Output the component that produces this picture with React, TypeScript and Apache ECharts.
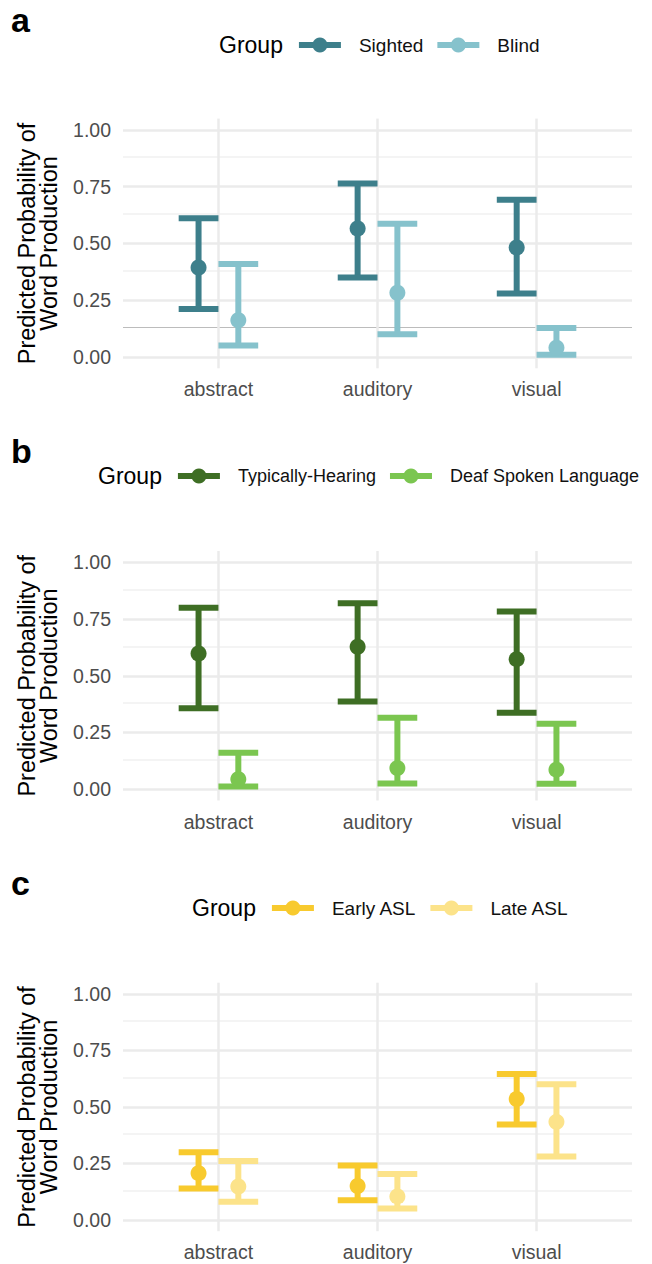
import React, { useEffect, useRef } from "react";
import * as echarts from "echarts";

// Word categories on the x axis
const categories = ["abstract", "auditory", "visual"];

// Y axis ticks (labelled) and minor gridlines
const yTicks = [0, 0.25, 0.5, 0.75, 1];
const yMinor = [0.125, 0.375, 0.625, 0.875];

// Panel a: sighted vs blind
const sightedMid = [0.394, 0.566, 0.482];
const sightedLo = [0.211, 0.35, 0.279];
const sightedHi = [0.611, 0.764, 0.692];
const blindMid = [0.162, 0.283, 0.041];
const blindLo = [0.05, 0.1, 0.01];
const blindHi = [0.41, 0.587, 0.127];

// Panel b: typically-hearing vs deaf spoken language
const hearingMid = [0.598, 0.628, 0.573];
const hearingLo = [0.357, 0.386, 0.337];
const hearingHi = [0.8, 0.82, 0.783];
const deafMid = [0.044, 0.093, 0.086];
const deafLo = [0.012, 0.025, 0.024];
const deafHi = [0.16, 0.315, 0.288];

// Panel c: early vs late ASL
const earlyMid = [0.207, 0.15, 0.535];
const earlyLo = [0.139, 0.087, 0.422];
const earlyHi = [0.299, 0.241, 0.646];
const lateMid = [0.148, 0.104, 0.434];
const lateLo = [0.08, 0.05, 0.281];
const lateHi = [0.261, 0.203, 0.601];

type Group = { name: string; color: string; mid: number[]; lo: number[]; hi: number[] };
type Panel = {
  letter: string;
  groups: Group[];
  top: number;
  height: number;
  legendX: number;
  legendY: number;
  labelSize: number;
};

const panels: Panel[] = [
  {
    letter: "a",
    top: 118.6,
    height: 249.7,
    legendX: 219,
    legendY: 45,
    labelSize: 19,
    groups: [
      { name: "Sighted", color: "#3d7f8b", mid: sightedMid, lo: sightedLo, hi: sightedHi },
      { name: "Blind", color: "#86c2cc", mid: blindMid, lo: blindLo, hi: blindHi },
    ],
  },
  {
    letter: "b",
    top: 551,
    height: 249.5,
    legendX: 98,
    legendY: 476,
    labelSize: 18,
    groups: [
      { name: "Typically-Hearing", color: "#3e6e24", mid: hearingMid, lo: hearingLo, hi: hearingHi },
      { name: "Deaf Spoken Language", color: "#7bc650", mid: deafMid, lo: deafLo, hi: deafHi },
    ],
  },
  {
    letter: "c",
    top: 982.7,
    height: 248.5,
    legendX: 192,
    legendY: 908,
    labelSize: 19,
    groups: [
      { name: "Early ASL", color: "#f8ca2e", mid: earlyMid, lo: earlyLo, hi: earlyHi },
      { name: "Late ASL", color: "#fce38a", mid: lateMid, lo: lateLo, hi: lateHi },
    ],
  },
];

const FONT = "Liberation Sans, Arial, sans-serif";
const DODGE = 0.25; // dodge width in category units
const CAP_HALF = 0.125; // half-width of the error-bar caps
const GRID_COLOR = "#ebebeb";
const LEGEND_TITLE_SIZE = 23;
const TICK_SIZE = 19.5;

function textWidth(text: string, size: number): number {
  const c = document.createElement("canvas").getContext("2d");
  if (!c) return text.length * size * 0.55;
  c.font = `${size}px ${FONT}`;
  return c.measureText(text).width;
}

function buildLegend(p: Panel): any[] {
  const els: any[] = [];
  let x = p.legendX;
  const y = p.legendY;
  els.push({
    type: "text",
    x,
    y,
    style: {
      text: "Group",
      font: `${LEGEND_TITLE_SIZE}px ${FONT}`,
      fill: "#000",
      verticalAlign: "middle",
      align: "left",
    },
  });
  x += textWidth("Group", LEGEND_TITLE_SIZE) + 16;
  p.groups.forEach((g) => {
    els.push({ type: "rect", shape: { x, y: y - 3, width: 42, height: 6 }, style: { fill: g.color } });
    els.push({ type: "circle", shape: { cx: x + 21, cy: y, r: 7.5 }, style: { fill: g.color } });
    x += 42 + 18;
    els.push({
      type: "text",
      x,
      y,
      style: {
        text: g.name,
        font: `${p.labelSize}px ${FONT}`,
        fill: "#111",
        verticalAlign: "middle",
        align: "left",
      },
    });
    x += textWidth(g.name, p.labelSize) + 14;
  });
  els.push({
    type: "text",
    x: 11,
    y: p.legendY - 25,
    style: { text: p.letter, font: `bold 34px ${FONT}`, fill: "#000", verticalAlign: "middle", align: "left" },
  });
  return els;
}

export default function App() {
  const ref = useRef<HTMLDivElement>(null);

  useEffect(() => {
    if (!ref.current) return;
    const chart = echarts.init(ref.current, null, { renderer: "svg" });

    const grid = panels.map((p) => ({ left: 123, right: 20, top: p.top, height: p.height }));
    const xAxis = panels.map((_, i) => ({
      type: "value",
      gridIndex: i,
      min: 0.4,
      max: 3.6,
      axisLine: { show: false },
      axisTick: { show: false },
      splitLine: { show: false },
      axisLabel: {
        customValues: categories.map((_, k) => k + 1),
        formatter: (v: number) => categories[Math.round(v) - 1] ?? "",
        color: "#4d4d4d",
        fontSize: TICK_SIZE,
        fontFamily: FONT,
        margin: 11,
      },
    }));
    const yAxis = panels.map((_, i) => ({
      type: "value",
      gridIndex: i,
      min: -0.05,
      max: 1.05,
      axisLine: { show: false },
      axisTick: { show: false },
      splitLine: { show: false },
      name: "Predicted Probability of\nWord Production",
      nameLocation: "middle",
      nameRotate: 90,
      nameGap: 63,
      nameTextStyle: { fontSize: 23.5, fontFamily: FONT, color: "#000", lineHeight: 22 },
      axisLabel: {
        customValues: yTicks,
        formatter: (v: number) => v.toFixed(2),
        color: "#4d4d4d",
        fontSize: TICK_SIZE,
        fontFamily: FONT,
        margin: 12,
      },
    }));

    const series: any[] = [];
    panels.forEach((p, i) => {
      // gridlines drawn through the panel's own scales
      const lines: any[] = [];
      yMinor.forEach((v) => {
        const darker = i === 0 && v === 0.125;
        lines.push({
          yAxis: v,
          lineStyle: { color: darker ? "#bcbcbc" : "#f0f0f0", width: darker ? 1 : 1.5, type: "solid" },
        });
      });
      yTicks.forEach((v) => lines.push({ yAxis: v, lineStyle: { color: GRID_COLOR, width: 2.5, type: "solid" } }));
      categories.forEach((_, k) =>
        lines.push({ xAxis: k + 1, lineStyle: { color: GRID_COLOR, width: 2.5, type: "solid" } })
      );
      series.push({
        type: "line",
        xAxisIndex: i,
        yAxisIndex: i,
        data: [],
        z: 1,
        silent: true,
        markLine: { symbol: "none", silent: true, z: 1, label: { show: false }, data: lines, animation: false },
      });

      p.groups.forEach((g, gi) => {
        const offset = (gi - (p.groups.length - 1) / 2) * (DODGE / (p.groups.length - 1));
        const data = categories.map((_, k) => [k + 1 + offset, g.mid[k], g.lo[k], g.hi[k]]);
        series.push({
          type: "custom",
          name: g.name,
          xAxisIndex: i,
          yAxisIndex: i,
          z: 10 + gi,
          data,
          encode: { x: 0, y: [1, 2, 3] },
          renderItem: (_params: any, api: any) => {
            const x = api.value(0);
            const top = api.coord([x, api.value(3)]);
            const bot = api.coord([x, api.value(2)]);
            const mid = api.coord([x, api.value(1)]);
            const half = api.size([CAP_HALF, 0])[0];
            const st = { stroke: g.color, lineWidth: 6, lineCap: "butt" };
            return {
              type: "group",
              children: [
                { type: "line", shape: { x1: top[0], y1: top[1], x2: bot[0], y2: bot[1] }, style: st },
                { type: "line", shape: { x1: top[0] - half, y1: top[1], x2: top[0] + half, y2: top[1] }, style: st },
                { type: "line", shape: { x1: bot[0] - half, y1: bot[1], x2: bot[0] + half, y2: bot[1] }, style: st },
                { type: "circle", shape: { cx: mid[0], cy: mid[1], r: 8 }, style: { fill: g.color } },
              ],
            };
          },
        });
      });
    });

    chart.setOption({
      animation: false,
      backgroundColor: "#fff",
      grid,
      xAxis,
      yAxis,
      series,
      graphic: panels.flatMap(buildLegend),
    });

    return () => chart.dispose();
  }, []);

  return <div ref={ref} style={{ position: "absolute", left: 0, top: 0, width: 652, height: 1264 }} />;
}
